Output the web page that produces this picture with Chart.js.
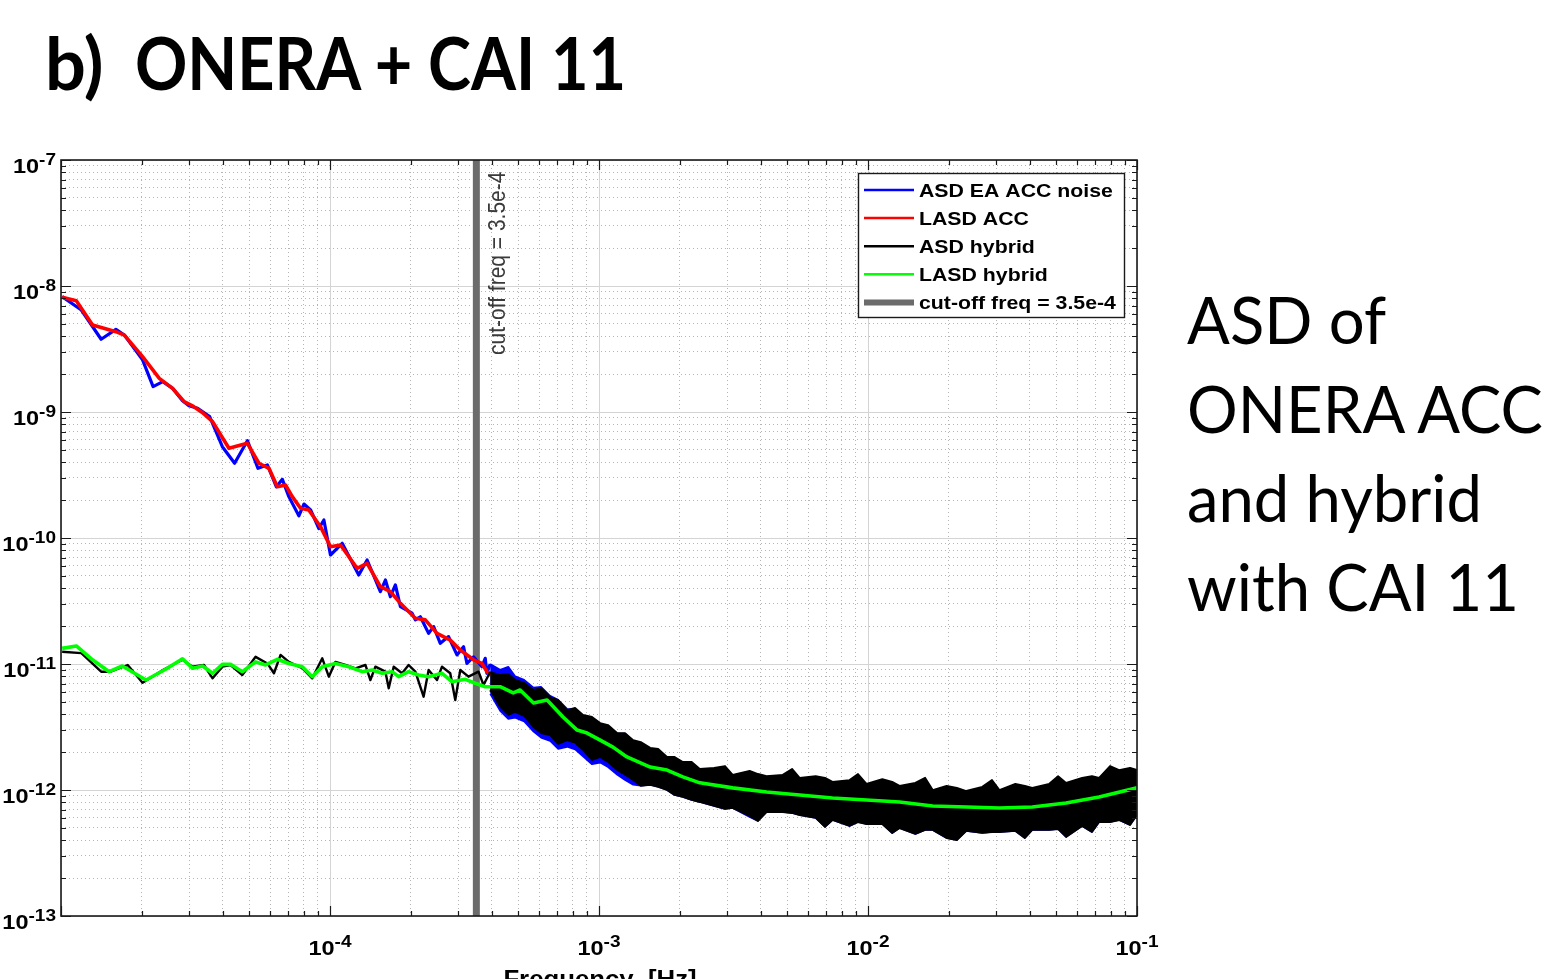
<!DOCTYPE html>
<html>
<head>
<meta charset="utf-8">
<script src="https://cdn.jsdelivr.net/npm/chart.js@4.4.0/dist/chart.umd.min.js"></script>
<style>
  html, body { margin: 0; padding: 0; background: #fff; overflow: hidden; }
  #wrap { position: relative; width: 1564px; height: 979px; }
  #chart { position: absolute; left: 0; top: 0; }
  .title { position: absolute; top: 26px; font-family: Lato, sans-serif; font-weight: bold; font-size: 72px; line-height: 72px; color: #000; white-space: nowrap; transform-origin: 0 0; }
  #side { position: absolute; left: 1187px; top: 275px; font-family: Lato, sans-serif; font-size: 65px; line-height: 89px; color: #000; white-space: nowrap; transform: scaleX(0.975); transform-origin: 0 0; }
</style>
</head>
<body>
<div id="wrap">
  <canvas id="chart" width="1564" height="979"></canvas>
  <div class="title" style="left:45px">b)</div>
  <div class="title" style="left:135px; transform: scaleX(0.9)">ONERA + CAI 11</div>
  <div id="side">ASD of<br>ONERA ACC<br>and hybrid<br>with CAI 11</div>
</div>
<script>
// ASD EA ACC noise (blue) - low frequency part
const blueFreq = [1.01e-5, 1.19e-5, 1.41e-5, 1.60e-5, 1.72e-5, 2.01e-5, 2.20e-5, 2.39e-5, 2.60e-5, 2.83e-5,
  2.99e-5, 3.22e-5, 3.57e-5, 3.98e-5, 4.42e-5, 4.93e-5, 5.40e-5, 5.85e-5, 6.32e-5, 6.65e-5,
  7.03e-5, 7.66e-5, 8.00e-5, 8.47e-5, 9.09e-5, 9.49e-5, 1.004e-4, 1.11e-4, 1.279e-4, 1.374e-4,
  1.539e-4, 1.607e-4, 1.677e-4, 1.750e-4, 1.827e-4, 2.018e-4, 2.076e-4, 2.167e-4, 2.326e-4, 2.428e-4,
  2.570e-4, 2.759e-4, 2.965e-4, 3.137e-4, 3.229e-4, 3.416e-4, 3.671e-4, 3.776e-4, 3.831e-4, 3.94e-4];
const blueVal = [8.23e-9, 6.45e-9, 3.78e-9, 4.53e-9, 4.08e-9, 2.59e-9, 1.59e-9, 1.74e-9, 1.54e-9, 1.23e-9,
  1.12e-9, 1.07e-9, 9.18e-10, 5.30e-10, 3.92e-10, 5.92e-10, 3.57e-10, 3.80e-10, 2.55e-10, 2.92e-10,
  2.13e-10, 1.50e-10, 1.86e-10, 1.67e-10, 1.19e-10, 1.39e-10, 7.33e-11, 9.08e-11, 5.09e-11, 6.69e-11,
  3.75e-11, 4.64e-11, 3.42e-11, 4.24e-11, 2.85e-11, 2.53e-11, 2.24e-11, 2.37e-11, 1.75e-11, 1.98e-11,
  1.46e-11, 1.65e-11, 1.18e-11, 1.37e-11, 1.01e-11, 1.14e-11, 9.52e-12, 1.11e-11, 8.44e-12, 1.0e-11];

// LASD ACC (red)
const redFreq = [1.01e-5, 1.14e-5, 1.31e-5, 1.60e-5, 1.72e-5, 2.01e-5, 2.32e-5, 2.60e-5, 2.87e-5, 3.08e-5,
  3.36e-5, 3.66e-5, 4.21e-5, 4.93e-5, 5.44e-5, 5.93e-5, 6.37e-5, 6.84e-5, 7.24e-5, 7.77e-5,
  8.34e-5, 9.22e-5, 1.004e-4, 1.094e-4, 1.261e-4, 1.374e-4, 1.539e-4, 1.677e-4, 1.827e-4, 2.076e-4,
  2.261e-4, 2.499e-4, 2.799e-4, 3.050e-4, 3.416e-4, 3.671e-4, 3.831e-4, 3.998e-4, 4.173e-4, 5.705e-4,
  6.768e-4, 8.267e-4, 1.009e-3, 1.197e-3, 1.337e-3, 1.79e-3, 2.37e-3, 5.57e-3, 1.31e-2, 3.08e-2,
  7.23e-2, 1e-1];
const redVal = [8.13e-9, 7.64e-9, 4.90e-9, 4.34e-9, 4.08e-9, 2.75e-9, 1.85e-9, 1.54e-9, 1.21e-9, 1.12e-9,
  9.87e-10, 8.38e-10, 5.15e-10, 5.64e-10, 3.92e-10, 3.57e-10, 2.55e-10, 2.63e-10, 2.13e-10, 1.72e-10,
  1.67e-10, 1.23e-10, 8.53e-11, 8.80e-11, 5.75e-11, 6.30e-11, 4.11e-11, 3.75e-11, 3.03e-11, 2.31e-11,
  2.24e-11, 1.75e-11, 1.55e-11, 1.29e-11, 1.08e-11, 1.01e-11, 8.69e-12, 8.18e-12, 7.46e-12, 4.06e-12,
  3.09e-12, 2.35e-12, 2.08e-12, 1.63e-12, 1.36e-12, 1.12e-12, 1.0e-12, 8.33e-13, 7.20e-13, 6.69e-13,
  7.60e-13, 8.96e-13];

// ASD hybrid (black) - low frequency part
const blackFreq = [1.01e-5, 1.19e-5, 1.41e-5, 1.53e-5, 1.77e-5, 2.01e-5, 2.42e-5, 2.83e-5, 3.08e-5, 3.40e-5,
  3.66e-5, 3.98e-5, 4.27e-5, 4.72e-5, 5.29e-5, 5.85e-5, 6.19e-5, 6.55e-5, 7.03e-5, 7.89e-5,
  8.59e-5, 9.36e-5, 9.90e-5, 1.048e-4, 1.141e-4, 1.243e-4, 1.354e-4, 1.413e-4, 1.475e-4, 1.607e-4,
  1.653e-4, 1.725e-4, 1.853e-4, 1.960e-4, 2.076e-4, 2.228e-4, 2.326e-4, 2.499e-4, 2.608e-4, 2.799e-4,
  2.922e-4, 3.050e-4, 3.273e-4, 3.566e-4, 3.721e-4, 3.94e-4];
const blackVal = [1.25e-11, 1.22e-11, 8.69e-12, 8.69e-12, 9.82e-12, 7.11e-12, 9.08e-12, 1.08e-11, 9.52e-12, 9.82e-12,
  7.70e-12, 9.52e-12, 9.82e-12, 8.18e-12, 1.14e-11, 1.01e-11, 8.44e-12, 1.18e-11, 1.04e-11, 9.25e-12,
  7.70e-12, 1.11e-11, 7.93e-12, 1.04e-11, 9.82e-12, 9.25e-12, 9.82e-12, 7.46e-12, 9.52e-12, 8.69e-12,
  6.41e-12, 9.52e-12, 8.44e-12, 9.82e-12, 8.69e-12, 5.50e-12, 8.96e-12, 7.46e-12, 9.52e-12, 8.44e-12,
  5.18e-12, 8.96e-12, 7.93e-12, 8.69e-12, 6.81e-12, 8.64e-12];

// high frequency noise: upper / lower edge of the ASD spread
const bandFreq = [3.94e-4, 4.29e-4, 4.60e-4, 4.88e-4, 5.27e-4, 5.71e-4, 6.09e-4, 6.58e-4, 7.05e-4, 7.61e-4,
  8.15e-4, 8.72e-4, 9.42e-4, 1.01e-3, 1.08e-3, 1.17e-3, 1.25e-3, 1.34e-3, 1.43e-3, 1.55e-3,
  1.66e-3, 1.79e-3, 1.91e-3, 2.05e-3, 2.21e-3, 2.37e-3, 2.68e-3, 2.94e-3, 3.14e-3, 3.63e-3,
  3.90e-3, 4.20e-3, 4.82e-3, 5.22e-3, 5.57e-3, 6.39e-3, 6.92e-3, 7.38e-3, 8.54e-3, 9.18e-3,
  9.87e-3, 1.13e-2, 1.23e-2, 1.31e-2, 1.50e-2, 1.63e-2, 1.74e-2, 1.96e-2, 2.14e-2, 2.32e-2,
  2.66e-2, 2.89e-2, 3.08e-2, 3.53e-2, 3.83e-2, 4.08e-2, 4.72e-2, 5.09e-2, 5.45e-2, 6.25e-2,
  6.80e-2, 7.23e-2, 7.94e-2, 8.58e-2, 9.42e-2, 1e-1];
const blackHi = [8.64e-12, 8.18e-12, 8.33e-12, 7.47e-12, 7.07e-12, 6.22e-12, 6.45e-12, 5.47e-12, 5.18e-12, 4.31e-12,
  4.48e-12, 3.94e-12, 3.80e-12, 3.40e-12, 3.28e-12, 2.83e-12, 2.83e-12, 2.49e-12, 2.40e-12, 2.16e-12,
  2.12e-12, 1.83e-12, 1.83e-12, 1.67e-12, 1.67e-12, 1.47e-12, 1.50e-12, 1.55e-12, 1.32e-12, 1.42e-12,
  1.34e-12, 1.29e-12, 1.32e-12, 1.47e-12, 1.25e-12, 1.29e-12, 1.25e-12, 1.16e-12, 1.20e-12, 1.34e-12,
  1.12e-12, 1.22e-12, 1.16e-12, 1.08e-12, 1.14e-12, 1.25e-12, 1.00e-12, 1.08e-12, 1.04e-12, 9.82e-13,
  1.06e-12, 1.20e-12, 1.00e-12, 1.12e-12, 1.08e-12, 1.04e-12, 1.12e-12, 1.29e-12, 1.14e-12, 1.25e-12,
  1.29e-12, 1.25e-12, 1.55e-12, 1.44e-12, 1.50e-12, 1.44e-12];
const blackLo = [6.22e-12, 4.56e-12, 3.94e-12, 4.16e-12, 3.87e-12, 3.16e-12, 2.83e-12, 2.73e-12, 2.32e-12, 2.49e-12,
  2.36e-12, 2.08e-12, 1.73e-12, 1.83e-12, 1.67e-12, 1.44e-12, 1.32e-12, 1.20e-12, 1.08e-12, 1.10e-12,
  1.06e-12, 1.00e-12, 9.13e-13, 8.80e-13, 8.33e-13, 8.03e-13, 7.47e-13, 7.07e-13, 7.20e-13, 6.22e-13,
  5.68e-13, 6.69e-13, 6.69e-13, 6.57e-13, 6.33e-13, 6.00e-13, 5.09e-13, 5.78e-13, 5.18e-13, 5.57e-13,
  5.37e-13, 5.37e-13, 4.56e-13, 4.99e-13, 4.48e-13, 4.82e-13, 4.82e-13, 4.16e-13, 4.01e-13, 4.73e-13,
  4.56e-13, 4.64e-13, 4.64e-13, 4.73e-13, 4.16e-13, 4.82e-13, 4.82e-13, 4.90e-13, 4.24e-13, 5.18e-13,
  4.64e-13, 5.57e-13, 5.57e-13, 5.78e-13, 5.28e-13, 6.33e-13];
const blueHi = [1.0e-11, 9.0e-12, 9.5e-12, 8.0e-12, 7.5e-12, 6.5e-12, 6.6e-12, 5.6e-12, 5.2e-12, 4.4e-12,
  4.4e-12, 3.9e-12, 3.7e-12, 3.3e-12, 3.2e-12, 2.8e-12, 2.8e-12, 2.45e-12, 2.35e-12, 2.1e-12,
  2.05e-12, 1.8e-12, 1.8e-12, 1.65e-12, 1.65e-12, 1.45e-12, 1.48e-12, 1.52e-12, 1.30e-12, 1.40e-12,
  1.31e-12, 1.27e-12, 1.30e-12, 1.44e-12, 1.23e-12, 1.27e-12, 1.22e-12, 1.14e-12, 1.18e-12, 1.31e-12,
  1.10e-12, 1.20e-12, 1.14e-12, 1.06e-12, 1.12e-12, 1.22e-12, 9.9e-13, 1.06e-12, 1.02e-12, 9.7e-13,
  1.04e-12, 1.18e-12, 9.9e-13, 1.10e-12, 1.06e-12, 1.02e-12, 1.10e-12, 1.26e-12, 1.12e-12, 1.23e-12,
  1.26e-12, 1.23e-12, 1.52e-12, 1.42e-12, 1.47e-12, 1.42e-12];
const blueLo = [5.8e-12, 4.25e-12, 3.66e-12, 3.75e-12, 3.5e-12, 2.9e-12, 2.6e-12, 2.45e-12, 2.12e-12, 2.2e-12,
  2.1e-12, 1.85e-12, 1.6e-12, 1.65e-12, 1.52e-12, 1.32e-12, 1.2e-12, 1.1e-12, 1.08e-12, 1.10e-12,
  1.06e-12, 1.00e-12, 9.13e-13, 8.80e-13, 8.33e-13, 8.03e-13, 7.47e-13, 7.07e-13, 7.20e-13, 6.1e-13,
  5.68e-13, 6.69e-13, 6.69e-13, 6.57e-13, 6.33e-13, 6.00e-13, 5.09e-13, 5.78e-13, 5.18e-13, 5.57e-13,
  5.37e-13, 5.37e-13, 4.56e-13, 4.99e-13, 4.48e-13, 4.82e-13, 4.82e-13, 4.16e-13, 4.01e-13, 4.73e-13,
  4.56e-13, 4.64e-13, 4.64e-13, 4.73e-13, 4.16e-13, 4.82e-13, 4.82e-13, 4.90e-13, 4.24e-13, 5.18e-13,
  4.64e-13, 5.57e-13, 5.57e-13, 5.78e-13, 5.28e-13, 6.33e-13];

// LASD hybrid (green)
const greenFreq = [1.01e-5, 1.14e-5, 1.31e-5, 1.51e-5, 1.69e-5, 2.07e-5, 2.45e-5, 2.83e-5, 3.08e-5, 3.36e-5,
  3.66e-5, 3.98e-5, 4.27e-5, 4.72e-5, 5.29e-5, 5.76e-5, 6.37e-5, 7.03e-5, 7.89e-5, 8.59e-5,
  9.36e-5, 1.048e-4, 1.174e-4, 1.317e-4, 1.434e-4, 1.562e-4, 1.702e-4, 1.800e-4, 1.960e-4, 2.136e-4,
  2.326e-4, 2.608e-4, 2.840e-4, 3.183e-4, 3.467e-4, 3.776e-4, 4.29e-4, 4.80e-4, 5.09e-4, 5.71e-4,
  6.41e-4, 7.35e-4, 8.29e-4, 9.03e-4, 1.01e-3, 1.127e-3, 1.27e-3, 1.55e-3, 1.79e-3, 2.05e-3,
  2.37e-3, 3.14e-3, 4.20e-3, 5.57e-3, 7.38e-3, 9.87e-3, 1.31e-2, 1.74e-2, 2.32e-2, 3.08e-2,
  4.08e-2, 5.45e-2, 7.23e-2, 1e-1];
const greenVal = [1.33e-11, 1.39e-11, 1.08e-11, 8.69e-12, 9.64e-12, 7.46e-12, 9.08e-12, 1.10e-11, 9.25e-12, 9.64e-12,
  8.44e-12, 9.94e-12, 9.94e-12, 8.69e-12, 1.04e-11, 9.82e-12, 1.09e-11, 1.01e-11, 9.52e-12, 7.93e-12,
  9.52e-12, 1.01e-11, 9.52e-12, 8.69e-12, 8.96e-12, 8.44e-12, 8.69e-12, 7.93e-12, 8.69e-12, 8.18e-12,
  7.93e-12, 8.44e-12, 7.24e-12, 7.56e-12, 7.03e-12, 6.60e-12, 6.60e-12, 5.89e-12, 6.22e-12, 4.90e-12,
  5.18e-12, 3.80e-12, 2.99e-12, 2.83e-12, 2.49e-12, 2.19e-12, 1.83e-12, 1.52e-12, 1.44e-12, 1.27e-12,
  1.14e-12, 1.04e-12, 9.64e-13, 9.13e-13, 8.64e-13, 8.33e-13, 8.03e-13, 7.46e-13, 7.33e-13, 7.20e-13,
  7.33e-13, 7.88e-13, 8.80e-13, 1.04e-12];

const cutoffFreq = 3.5e-4;
const cutoffLabel = 'cut-off freq = 3.5e-4';

// axes
const xMin = 1e-5, xMax = 1e-1, yMin = 1e-13, yMax = 1e-7;
const xLabelExp = [-4, -3, -2, -1];
const yLabelExp = [-7, -8, -9, -10, -11, -12, -13];
const xTitle = 'Frequency  [Hz]';

const legendItems = [
  { text: 'ASD EA ACC noise', color: '#0000ff', width: 2.5 },
  { text: 'LASD ACC', color: '#ff0000', width: 2.5 },
  { text: 'ASD hybrid', color: '#000000', width: 2.5 },
  { text: 'LASD hybrid', color: '#00ff00', width: 2.5 },
  { text: 'cut-off freq = 3.5e-4', color: '#6b6b6b', width: 6 }
];

function logTicks(e0, e1) {
  const t = [];
  for (let e = e0; e <= e1; e++) {
    for (let m = 1; m <= 9; m++) {
      if (e === e1 && m > 1) break;
      t.push(m * Math.pow(10, e));
    }
  }
  return t;
}
const xTicks = logTicks(-5, -1);
const yTicks = logTicks(-13, -7);

function isDecade(v) {
  const l = Math.log10(v);
  return Math.abs(l - Math.round(l)) < 1e-6;
}

const pts = (f, v) => f.map((x, i) => ({ x: x, y: v[i] }));

function line(label, f, v, color, w, extra) {
  return Object.assign({
    label: label, data: pts(f, v), borderColor: color, backgroundColor: color,
    borderWidth: w, pointRadius: 0, tension: 0, fill: false, borderJoinStyle: 'round'
  }, extra || {});
}

const gridOpts = {
  color: c => (c.tick && !isDecade(c.tick.value)) ? '#b4b4b4' : '#d4d4d4',
  lineWidth: 1,
  drawTicks: false
};
const borderOpts = {
  display: false,
  dash: c => (c.tick && !isDecade(c.tick.value)) ? [1, 3] : []
};

const SX = 1.12; // chart text is drawn slightly wide

function drawPow(ctx, x, yBase, exp, align) {
  const baseFont = 'bold 21px "Liberation Sans", Arial, sans-serif';
  const expFont = 'bold 17px "Liberation Sans", Arial, sans-serif';
  ctx.font = baseFont;
  const w1 = ctx.measureText('10').width * SX;
  ctx.font = expFont;
  const s = String(exp);
  const w2 = ctx.measureText(s).width * SX;
  const x0 = align === 'right' ? x - w1 - w2 : x - (w1 + w2) / 2;
  ctx.save();
  ctx.translate(x0, 0);
  ctx.scale(SX, 1);
  ctx.font = baseFont;
  ctx.fillText('10', 0, yBase);
  ctx.font = expFont;
  ctx.fillText(s, w1 / SX, yBase - 8);
  ctx.restore();
}

const overlay = {
  id: 'overlay',
  afterDraw(chart) {
    const { ctx, chartArea: a, scales: { x, y } } = chart;
    ctx.save();
    ctx.fillStyle = '#000';
    ctx.textAlign = 'left';
    ctx.textBaseline = 'alphabetic';

    // inward ticks on all four sides
    ctx.strokeStyle = '#1a1a1a';
    ctx.lineWidth = 1.2;
    ctx.beginPath();
    xTicks.forEach(v => {
      const px = Math.round(x.getPixelForValue(v)) + 0.5;
      const len = isDecade(v) ? 10 : 5;
      ctx.moveTo(px, a.bottom); ctx.lineTo(px, a.bottom - len);
      ctx.moveTo(px, a.top); ctx.lineTo(px, a.top + len);
    });
    yTicks.forEach(v => {
      const py = Math.round(y.getPixelForValue(v)) + 0.5;
      const len = isDecade(v) ? 10 : 5;
      ctx.moveTo(a.left, py); ctx.lineTo(a.left + len, py);
      ctx.moveTo(a.right, py); ctx.lineTo(a.right - len, py);
    });
    ctx.stroke();

    // box
    ctx.lineWidth = 1.6;
    ctx.strokeRect(a.left, a.top, a.right - a.left, a.bottom - a.top);

    // tick labels
    xLabelExp.forEach(e => {
      drawPow(ctx, x.getPixelForValue(Math.pow(10, e)), a.bottom + 39, e, 'center');
    });
    yLabelExp.forEach(e => {
      drawPow(ctx, a.left - 5, y.getPixelForValue(Math.pow(10, e)) + 13, e, 'right');
    });

    // x axis title (runs off the bottom edge)
    ctx.save();
    ctx.font = 'bold 23px "Liberation Sans", Arial, sans-serif';
    const tw = ctx.measureText(xTitle).width * SX;
    ctx.translate((a.left + a.right) / 2 - tw / 2 + 1, 0);
    ctx.scale(SX, 1);
    ctx.fillText(xTitle, 0, 987);
    ctx.restore();

    // cut-off label
    ctx.save();
    ctx.fillStyle = '#3a3a3a';
    ctx.font = '21px "Liberation Sans", Arial, sans-serif';
    ctx.translate(x.getPixelForValue(cutoffFreq) + 22, 355);
    ctx.scale(SX, 1);
    ctx.rotate(-Math.PI / 2);
    ctx.textBaseline = 'middle';
    ctx.fillText(cutoffLabel, 0, 0);
    ctx.restore();

    // legend
    const lx = 858, ly = 173, lw = 266, lh = 144;
    ctx.fillStyle = '#fff';
    ctx.fillRect(lx, ly, lw, lh);
    ctx.strokeStyle = '#1a1a1a';
    ctx.lineWidth = 1.4;
    ctx.strokeRect(lx + 0.5, ly + 0.5, lw, lh);
    legendItems.forEach((it, i) => {
      const ry = ly + 17 + i * 28.1;
      ctx.strokeStyle = it.color;
      ctx.lineWidth = it.width;
      ctx.beginPath();
      ctx.moveTo(864, ry); ctx.lineTo(914, ry);
      ctx.stroke();
      ctx.save();
      ctx.fillStyle = '#000';
      ctx.font = 'bold 19px "Liberation Sans", Arial, sans-serif';
      ctx.translate(919, 0);
      ctx.scale(SX, 1);
      ctx.fillText(it.text, 0, ry + 7);
      ctx.restore();
    });
    ctx.restore();
  }
};

new Chart(document.getElementById('chart'), {
  type: 'line',
  data: {
    datasets: [
      line('LASD hybrid', greenFreq, greenVal, '#00ff00', 3.6),
      line('ASD hybrid', blackFreq, blackVal, '#000000', 2.4),
      line('ASD hybrid hi', bandFreq, blackHi, '#000000', 1.8),
      line('ASD hybrid lo', bandFreq, blackLo, '#000000', 1.8, { fill: '-1' }),
      line('LASD ACC', redFreq, redVal, '#ff0000', 3.6),
      line('ASD EA ACC noise', blueFreq, blueVal, '#0000ff', 3.2),
      line('ASD EA ACC noise hi', bandFreq, blueHi, '#0000ff', 1.6),
      line('ASD EA ACC noise lo', bandFreq, blueLo, '#0000ff', 1.6, { fill: '-1' }),
      line('cut-off', [cutoffFreq, cutoffFreq], [yMin, yMax], '#6b6b6b', 7, { borderJoinStyle: 'miter' })
    ]
  },
  options: {
    responsive: false,
    animation: false,
    devicePixelRatio: 1,
    events: [],
    layout: { padding: { left: 61, top: 160, right: 427, bottom: 63 } },
    plugins: { legend: { display: false }, tooltip: { enabled: false } },
    scales: {
      x: {
        type: 'logarithmic', min: xMin, max: xMax,
        afterBuildTicks: s => { s.ticks = xTicks.map(v => ({ value: v })); },
        ticks: { display: false },
        grid: gridOpts, border: borderOpts
      },
      y: {
        type: 'logarithmic', min: yMin, max: yMax,
        afterBuildTicks: s => { s.ticks = yTicks.map(v => ({ value: v })); },
        ticks: { display: false },
        grid: gridOpts, border: borderOpts
      }
    }
  },
  plugins: [overlay]
});
</script>
</body>
</html>
